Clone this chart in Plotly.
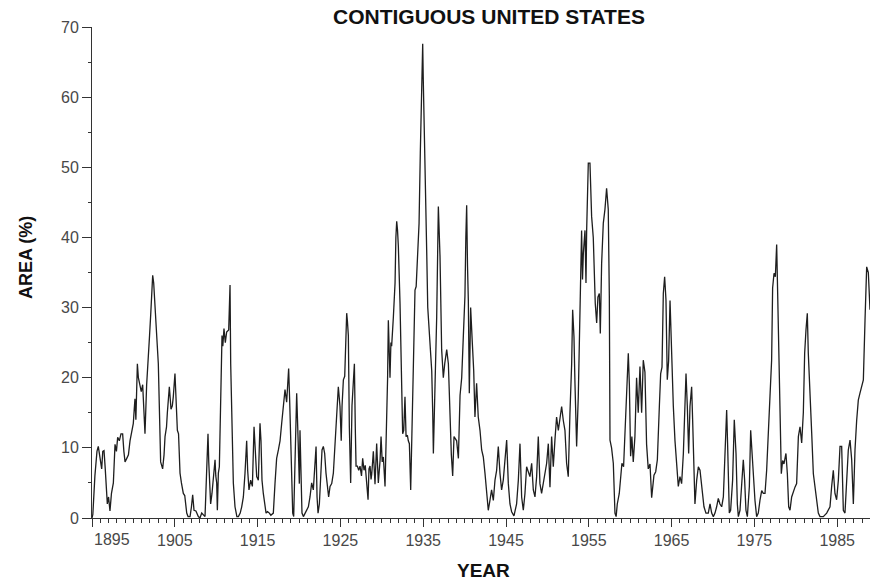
import plotly.graph_objects as go

# ---- data (year, percent of area) ----
year = [
    1895.00, 1895.10, 1895.35, 1895.60, 1895.76, 1896.00, 1896.17, 1896.30, 1896.45, 1896.60,
    1896.72, 1896.85, 1897.00, 1897.17, 1897.35, 1897.58, 1897.78, 1897.95, 1898.10, 1898.30,
    1898.50, 1898.70, 1898.85, 1898.99, 1899.20, 1899.40, 1899.59, 1899.80, 1899.99, 1900.10,
    1900.19, 1900.30, 1900.48, 1900.60, 1900.80, 1900.95, 1901.12, 1901.25, 1901.40, 1901.60,
    1901.80, 1901.95, 1902.09, 1902.20, 1902.33, 1902.45, 1902.60, 1902.73, 1902.85, 1903.01,
    1903.15, 1903.29, 1903.53, 1903.70, 1903.82, 1904.00, 1904.10, 1904.34, 1904.45, 1904.54,
    1904.70, 1904.82, 1905.02, 1905.15, 1905.31, 1905.45, 1905.63, 1905.80, 1906.03, 1906.20,
    1906.44, 1906.60, 1906.84, 1907.00, 1907.16, 1907.32, 1907.55, 1907.84, 1908.04, 1908.25,
    1908.45, 1908.65, 1908.85, 1909.01, 1909.10, 1909.17, 1909.33, 1909.49, 1909.66, 1909.86,
    1909.95, 1910.06, 1910.14, 1910.26, 1910.38, 1910.46, 1910.54, 1910.70, 1910.80, 1910.94,
    1911.10, 1911.26, 1911.51, 1911.67, 1911.75, 1911.87, 1912.07, 1912.27, 1912.50, 1912.68,
    1912.90, 1913.08, 1913.28, 1913.48, 1913.68, 1913.80, 1913.96, 1914.16, 1914.37, 1914.57,
    1914.73, 1914.89, 1915.09, 1915.29, 1915.41, 1915.53, 1915.69, 1915.90, 1916.02, 1916.20,
    1916.42, 1916.60, 1916.90, 1917.10, 1917.30, 1917.51, 1917.71, 1917.91, 1918.11, 1918.31,
    1918.51, 1918.63, 1918.75, 1918.87, 1918.99, 1919.12, 1919.24, 1919.36, 1919.52, 1919.72,
    1919.88, 1920.04, 1920.12, 1920.24, 1920.36, 1920.53, 1920.93, 1921.13, 1921.33, 1921.53,
    1921.73, 1921.93, 1922.06, 1922.18, 1922.30, 1922.46, 1922.62, 1922.78, 1922.94, 1923.10,
    1923.26, 1923.42, 1923.58, 1923.75, 1923.95, 1924.15, 1924.35, 1924.55, 1924.75, 1924.95,
    1925.10, 1925.20, 1925.36, 1925.52, 1925.68, 1925.76, 1925.85, 1925.96, 1926.08, 1926.24,
    1926.40, 1926.56, 1926.69, 1926.80, 1926.89, 1927.05, 1927.21, 1927.37, 1927.55, 1927.69,
    1927.85, 1928.00, 1928.18, 1928.34, 1928.45, 1928.58, 1928.70, 1928.78, 1928.98, 1929.10,
    1929.18, 1929.38, 1929.50, 1929.58, 1929.79, 1929.91, 1930.05, 1930.19, 1930.39, 1930.59,
    1930.70, 1930.79, 1930.90, 1930.99, 1931.10, 1931.19, 1931.40, 1931.60, 1931.70, 1931.80,
    1931.90, 1932.00, 1932.20, 1932.40, 1932.52, 1932.65, 1932.80, 1932.93, 1933.09, 1933.20,
    1933.33, 1933.49, 1933.60, 1933.73, 1933.85, 1934.01, 1934.15, 1934.29, 1934.40, 1934.50,
    1934.65, 1934.80, 1934.94, 1935.00, 1935.10, 1935.22, 1935.42, 1935.55, 1935.74, 1936.03,
    1936.15, 1936.23, 1936.43, 1936.63, 1936.83, 1936.93, 1937.03, 1937.23, 1937.43, 1937.60,
    1937.84, 1938.04, 1938.24, 1938.40, 1938.56, 1938.72, 1939.04, 1939.25, 1939.45, 1939.65,
    1939.85, 1940.04, 1940.15, 1940.25, 1940.35, 1940.45, 1940.57, 1940.73, 1940.93, 1941.10,
    1941.25, 1941.45, 1941.65, 1941.86, 1942.06, 1942.26, 1942.46, 1942.66, 1942.86, 1943.06,
    1943.26, 1943.47, 1943.67, 1943.87, 1944.07, 1944.27, 1944.47, 1944.67, 1944.87, 1945.08,
    1945.28, 1945.48, 1945.68, 1945.96, 1946.28, 1946.49, 1946.69, 1946.89, 1947.09, 1947.29,
    1947.49, 1947.69, 1947.89, 1948.10, 1948.30, 1948.50, 1948.70, 1948.90, 1949.10, 1949.30,
    1949.50, 1949.71, 1949.91, 1950.11, 1950.31, 1950.51, 1950.71, 1950.91, 1951.11, 1951.32,
    1951.52, 1951.72, 1951.92, 1952.12, 1952.32, 1952.52, 1952.72, 1952.93, 1953.05, 1953.21,
    1953.33, 1953.53, 1953.73, 1953.93, 1954.13, 1954.24, 1954.34, 1954.54, 1954.66, 1954.74,
    1954.94, 1955.14, 1955.24, 1955.34, 1955.54, 1955.66, 1955.78, 1955.95, 1956.10, 1956.27,
    1956.39, 1956.55, 1956.75, 1956.95, 1957.15, 1957.35, 1957.48, 1957.56, 1957.75, 1957.96,
    1958.16, 1958.30, 1958.44, 1958.68, 1958.85, 1959.00, 1959.20, 1959.37, 1959.57, 1959.77,
    1959.90, 1960.05, 1960.20, 1960.37, 1960.57, 1960.77, 1960.97, 1961.18, 1961.38, 1961.58,
    1961.78, 1961.98, 1962.18, 1962.39, 1962.59, 1962.87, 1963.08, 1963.28, 1963.52, 1963.68,
    1963.84, 1964.00, 1964.16, 1964.32, 1964.48, 1964.64, 1964.81, 1964.93, 1965.05, 1965.21,
    1965.41, 1965.61, 1965.81, 1966.01, 1966.21, 1966.42, 1966.62, 1966.74, 1966.90, 1967.06,
    1967.22, 1967.42, 1967.54, 1967.70, 1967.82, 1968.03, 1968.23, 1968.43, 1968.63, 1968.91,
    1969.15, 1969.43, 1969.64, 1969.84, 1970.04, 1970.24, 1970.44, 1970.64, 1970.84, 1971.05,
    1971.25, 1971.45, 1971.65, 1971.77, 1971.97, 1972.13, 1972.37, 1972.57, 1972.78, 1972.94,
    1973.06, 1973.26, 1973.46, 1973.66, 1973.82, 1973.98, 1974.15, 1974.39, 1974.55, 1974.71,
    1974.87, 1975.07, 1975.27, 1975.47, 1975.67, 1975.88, 1976.08, 1976.28, 1976.48, 1976.68,
    1976.88, 1977.08, 1977.20, 1977.37, 1977.53, 1977.69, 1977.81, 1977.93, 1978.09, 1978.25,
    1978.41, 1978.57, 1978.81, 1978.98, 1979.14, 1979.30, 1979.50, 1979.70, 1979.90, 1980.10,
    1980.31, 1980.51, 1980.71, 1980.91, 1981.07, 1981.23, 1981.39, 1981.51, 1981.71, 1981.92,
    1982.12, 1982.32, 1982.52, 1982.72, 1982.92, 1983.32, 1983.73, 1984.13, 1984.33, 1984.53,
    1984.73, 1984.93, 1985.14, 1985.34, 1985.54, 1985.74, 1985.94, 1986.14, 1986.34, 1986.55,
    1986.75, 1986.95, 1987.15, 1987.35, 1987.55, 1987.75, 1987.95, 1988.16, 1988.36, 1988.56,
    1988.76, 1988.96,
]

area_pct = [
    0.0, 0.5, 6.0, 9.5, 10.2, 8.5, 7.0, 9.5, 9.6, 7.0,
    3.5, 2.0, 3.0, 1.0, 3.5, 5.0, 10.5, 9.5, 11.5, 11.0,
    12.0, 12.0, 9.5, 8.0, 8.5, 9.0, 11.0, 12.5, 13.5, 15.5,
    17.0, 14.0, 22.0, 20.0, 19.0, 18.0, 19.0, 16.0, 12.0, 19.0,
    24.0, 26.0, 29.0, 32.0, 34.6, 33.5, 30.0, 28.7, 25.0, 22.0,
    15.0, 8.0, 7.0, 9.0, 11.6, 13.0, 15.0, 18.7, 17.0, 15.5,
    16.0, 17.3, 20.6, 17.0, 12.5, 12.0, 6.4, 5.0, 3.5, 3.2,
    0.7, 0.2, 0.2, 1.5, 3.3, 1.1, 1.0, 0.2, 0.0, 0.7,
    0.4, 0.2, 6.8, 12.0, 8.0, 5.4, 2.0, 3.5, 5.4, 8.3,
    6.0, 5.0, 1.1, 6.4, 7.3, 13.0, 19.0, 26.0, 24.5, 27.0,
    25.0, 26.5, 26.8, 33.2, 22.0, 15.9, 5.0, 1.6, 0.2, 0.2,
    0.7, 1.6, 3.0, 6.4, 11.0, 6.8, 4.0, 5.4, 4.5, 13.0,
    10.0, 5.9, 5.4, 13.5, 11.0, 5.4, 3.5, 2.0, 0.7, 0.9,
    0.7, 0.4, 0.7, 4.9, 8.5, 9.7, 11.0, 13.5, 15.9, 18.3,
    16.5, 18.8, 21.3, 16.9, 11.2, 4.0, 0.7, 0.2, 8.8, 17.8,
    11.6, 4.9, 12.5, 5.9, 0.7, 0.2, 1.1, 1.6, 3.0, 5.0,
    4.0, 7.4, 10.2, 3.0, 0.7, 2.0, 6.4, 9.7, 10.2, 9.2,
    6.4, 4.3, 3.0, 4.5, 4.9, 6.4, 11.0, 15.9, 18.7, 15.9,
    11.0, 16.0, 19.7, 20.2, 27.0, 29.2, 28.0, 26.0, 13.0, 5.0,
    16.0, 20.6, 22.0, 12.8, 7.4, 7.4, 6.8, 7.4, 6.0, 8.5,
    6.8, 7.5, 4.5, 2.6, 7.0, 7.4, 5.5, 6.2, 9.5, 5.5,
    4.8, 10.6, 6.0, 5.0, 8.2, 11.6, 8.0, 8.7, 4.5, 13.5,
    20.0, 28.2, 24.0, 20.0, 25.0, 24.5, 28.7, 33.5, 40.0, 42.3,
    41.0, 38.7, 30.6, 19.2, 12.0, 12.5, 17.3, 11.6, 11.8, 11.0,
    10.6, 4.0, 10.0, 15.2, 24.0, 32.5, 33.0, 36.3, 38.0, 42.0,
    52.0, 62.0, 67.6, 63.0, 58.0, 50.0, 38.2, 30.0, 25.7, 21.0,
    15.0, 9.2, 19.0, 28.7, 44.4, 40.0, 37.3, 24.0, 20.0, 22.0,
    24.0, 22.0, 13.5, 9.0, 6.0, 11.6, 11.0, 8.5, 17.5, 20.0,
    26.0, 31.6, 40.0, 44.6, 36.0, 31.0, 17.8, 30.0, 25.0, 21.0,
    14.4, 19.2, 14.4, 12.5, 9.7, 8.7, 6.4, 4.0, 1.1, 2.5,
    4.0, 2.5, 5.4, 6.8, 10.2, 6.4, 4.0, 5.4, 8.7, 11.1,
    4.9, 2.0, 0.9, 0.3, 2.0, 5.4, 10.6, 3.0, 1.1, 3.5,
    7.3, 6.4, 5.9, 7.8, 4.0, 3.0, 5.9, 11.6, 4.9, 3.5,
    4.9, 5.9, 7.8, 10.6, 4.4, 11.6, 7.3, 11.1, 14.4, 12.5,
    13.9, 15.9, 13.9, 12.5, 7.8, 5.9, 14.8, 22.0, 29.7, 25.8,
    19.2, 10.2, 17.3, 32.0, 41.0, 34.0, 37.7, 41.0, 33.5, 41.0,
    50.6, 50.6, 46.0, 43.0, 40.0, 35.4, 30.6, 27.8, 31.5, 32.0,
    26.3, 36.3, 42.0, 44.0, 47.0, 44.0, 31.6, 11.1, 10.0, 7.8,
    0.7, 0.2, 2.0, 3.5, 5.5, 7.8, 7.3, 13.0, 19.0, 23.5,
    19.0, 8.8, 11.6, 8.0, 11.6, 20.0, 15.0, 21.6, 15.0, 22.5,
    20.8, 10.5, 7.0, 7.7, 2.9, 6.1, 6.6, 8.3, 15.9, 20.6,
    21.5, 32.0, 34.4, 31.1, 19.7, 22.4, 31.0, 25.7, 23.3, 15.9,
    11.0, 7.3, 4.5, 5.9, 4.9, 9.2, 15.9, 20.6, 15.9, 9.2,
    15.9, 18.7, 14.0, 6.3, 2.0, 5.4, 7.3, 6.8, 4.5, 1.6,
    0.7, 0.7, 2.0, 0.7, 0.2, 0.7, 1.6, 2.8, 2.0, 1.6,
    3.0, 9.2, 15.4, 10.2, 0.7, 1.1, 5.4, 14.0, 9.2, 2.0,
    0.2, 1.1, 4.9, 8.3, 5.4, 1.1, 0.2, 4.5, 12.5, 9.2,
    5.9, 2.5, 0.2, 0.7, 2.5, 3.9, 3.5, 3.5, 6.8, 13.5,
    17.3, 22.5, 32.8, 34.9, 34.4, 39.0, 32.0, 22.0, 13.0, 6.3,
    8.2, 7.7, 9.2, 6.3, 1.6, 1.1, 3.0, 3.9, 4.4, 4.9,
    11.6, 13.0, 10.7, 15.0, 23.5, 26.8, 29.2, 23.5, 18.7, 12.1,
    6.3, 4.4, 3.0, 0.7, 0.2, 0.2, 0.7, 1.6, 4.5, 6.8,
    3.5, 2.6, 5.4, 10.2, 10.2, 1.1, 0.7, 5.4, 9.7, 11.1,
    8.3, 2.0, 9.7, 13.9, 16.8, 17.8, 18.7, 19.7, 28.2, 35.8,
    35.0, 29.7,
]

x_tick_vals = [1895, 1905, 1915, 1925, 1935, 1945, 1955, 1965, 1975, 1985]
x_tick_text = ["", "1905", "1915", "1925", "1935", "1945", "1955", "1965", "1975", "1985"]
first_year_label = "1895"
y_tick_vals = [0, 10, 20, 30, 40, 50, 60, 70]

TICK_FONT = dict(family="Liberation Sans", size=16, color="#484848")
BOLD = "Liberation Sans"

fig = go.Figure()
fig.add_trace(go.Scatter(
    x=year, y=area_pct, mode="lines",
    line=dict(color="#1e1e1e", width=1.3),
    showlegend=False, hoverinfo="skip",
))

fig.update_layout(
    width=870, height=581,
    margin=dict(l=92, r=0, t=27, b=63),
    paper_bgcolor="white", plot_bgcolor="white",
    title=dict(
        text="<b>CONTIGUOUS UNITED STATES</b>",
        font=dict(family=BOLD, size=21, color="#111"),
        x=489 / 870, xanchor="center", xref="container",
        y=1 - 17 / 581, yanchor="middle", yref="container",
    ),
    xaxis=dict(
        range=[1895, 1895 + 778 / 8.28],
        tickmode="array", tickvals=x_tick_vals, ticktext=x_tick_text,
        ticks="outside", ticklen=8, tickwidth=1, tickcolor="#333",
        minor=dict(tickmode="linear", tick0=1895, dtick=1, ticks="outside",
                   ticklen=4, tickwidth=1, tickcolor="#333", showgrid=False),
        showline=True, linecolor="#333", linewidth=1,
        showgrid=False, zeroline=False,
        tickfont=TICK_FONT,
    ),
    yaxis=dict(
        range=[0, 70],
        tickmode="array", tickvals=y_tick_vals,
        ticks="outside", ticklen=9, tickwidth=1, tickcolor="#333",
        minor=dict(tickmode="linear", tick0=0, dtick=5, ticks="outside",
                   ticklen=3, tickwidth=1, tickcolor="#333", showgrid=False),
        showline=True, linecolor="#333", linewidth=1,
        showgrid=False, zeroline=False,
        tickfont=TICK_FONT,
    ),
    annotations=[
        dict(text=first_year_label, x=1895 + 20 / 8.28, xref="x",
             y=-(539.5 - 518) / 491, yref="paper",
             xanchor="center", yanchor="middle", showarrow=False, font=TICK_FONT),
        dict(text="<b>YEAR</b>", x=(483 - 92) / 778, xref="paper",
             y=-(570 - 518) / 491, yref="paper",
             xanchor="center", yanchor="middle", showarrow=False,
             font=dict(family=BOLD, size=19, color="#111")),
        dict(text="<b>AREA (%)</b>", x=(26 - 92) / 778, xref="paper",
             y=(518 - 258) / 491, yref="paper", textangle=-90,
             xanchor="center", yanchor="middle", showarrow=False,
             font=dict(family=BOLD, size=18, color="#111")),
    ],
)

fig.write_html("out.html")
